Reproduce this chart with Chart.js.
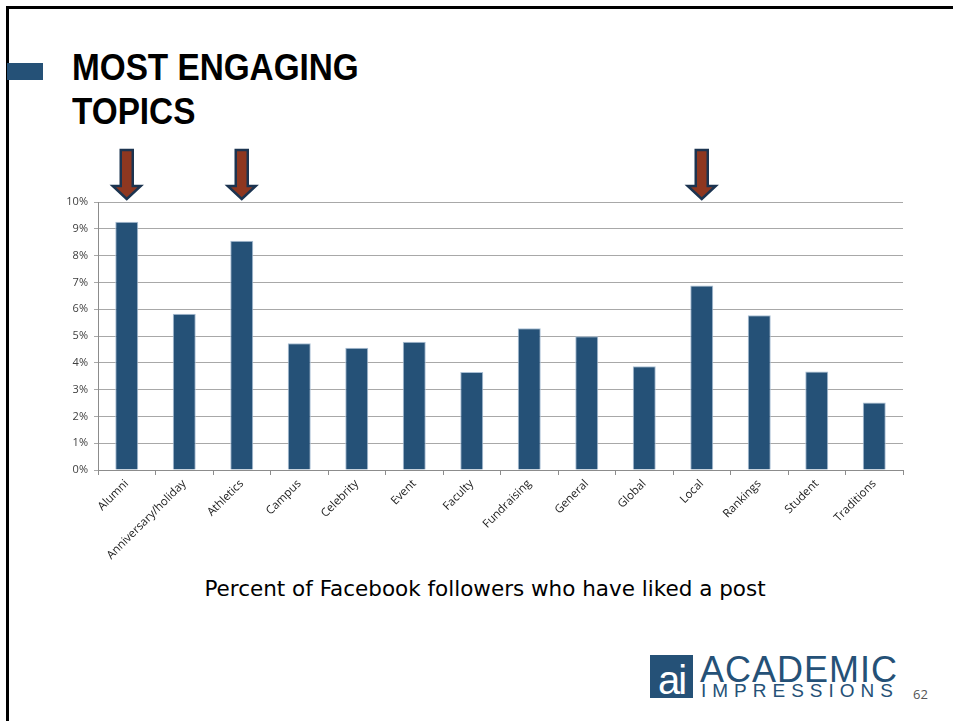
<!DOCTYPE html>
<html>
<head>
<meta charset="utf-8">
<script src="https://cdn.jsdelivr.net/npm/chart.js@4"></script>
<style>
  body { margin: 0; width: 953px; height: 721px; background: #fff; position: relative; overflow: hidden; }
  .frame { position: absolute; left: 6px; top: 6px; width: 960px; height: 730px; border-top: 3px solid #000; border-left: 3px solid #000; }
  .marker { position: absolute; left: 7px; top: 63px; width: 36px; height: 17px; background: #255177; }
  .title { position: absolute; left: 72px; top: 46px; font-family: "Liberation Sans", sans-serif; font-weight: bold; font-size: 37px; line-height: 44px; color: #000; transform: scaleX(0.9); transform-origin: 0 0; }
  .caption { position: absolute; left: 0; width: 970px; top: 576px; text-align: center; font-family: "DejaVu Sans", sans-serif; font-size: 21.5px; color: #000; }
  #wrap { position: absolute; left: 50px; top: 140px; width: 863px; height: 430px; }
  .logo-box { position: absolute; left: 650px; top: 655px; width: 43px; height: 43px; background: #255177; color: #fff; font-family: "Liberation Sans", sans-serif; font-size: 40px; line-height: 50px; text-align: center; letter-spacing: -2px; }
  .logo-a { position: absolute; left: 700px; top: 649px; font-family: "Liberation Sans", sans-serif; font-size: 36px; color: #255177; letter-spacing: 1px; }
  .logo-b { position: absolute; left: 701px; top: 680px; font-family: "Liberation Sans", sans-serif; font-size: 19px; color: #255177; letter-spacing: 6px; }
  .page { position: absolute; left: 913px; top: 685px; font-family: "Open Sans", sans-serif; font-size: 13px; color: #555; }
</style>
</head>
<body>
<div class="frame"></div>
<div class="marker"></div>
<div class="title">MOST ENGAGING<br>TOPICS</div>
<div id="wrap"><canvas id="chart"></canvas></div>
<div class="caption">Percent of Facebook followers who have liked a post</div>
<div class="logo-box">ai</div>
<div class="logo-a">ACADEMIC</div>
<div class="logo-b">IMPRESSIONS</div>
<div class="page">62</div>
<script>
const topics = ['Alumni', 'Anniversary/holiday', 'Athletics', 'Campus', 'Celebrity', 'Event', 'Faculty',
  'Fundraising', 'General', 'Global', 'Local', 'Rankings', 'Student', 'Traditions'];
const likedPct = [9.26, 5.83, 8.55, 4.73, 4.56, 4.79, 3.66, 5.29, 4.99, 3.87, 6.88, 5.77, 3.68, 2.52];
const highlighted = ['Alumni', 'Athletics', 'Local'];

// down arrows drawn over the highlighted topics
const arrowPlugin = {
    id: 'arrows',
    afterDraw(chart) {
        const ctx = chart.ctx;
        const xs = chart.scales.x;
        const tip = chart.chartArea.top - 3;
        highlighted.forEach(name => {
            const x = xs.getPixelForValue(topics.indexOf(name));
            ctx.save();
            ctx.beginPath();
            ctx.moveTo(x - 6, tip - 49);
            ctx.lineTo(x + 6, tip - 49);
            ctx.lineTo(x + 6, tip - 13);
            ctx.lineTo(x + 14, tip - 13);
            ctx.lineTo(x, tip);
            ctx.lineTo(x - 14, tip - 13);
            ctx.lineTo(x - 6, tip - 13);
            ctx.closePath();
            ctx.fillStyle = '#8e3720';
            ctx.fill();
            ctx.lineWidth = 2.5;
            ctx.strokeStyle = '#1c3450';
            ctx.stroke();
            ctx.restore();
        });
    }
};

const ctx = document.getElementById('chart').getContext('2d');
new Chart(ctx, {
    type: 'bar',
    data: {
        labels: topics,
        datasets: [{
            data: likedPct,
            backgroundColor: '#255177',
            borderColor: '#a9bfd4',
            borderWidth: { top: 1, left: 1, right: 1, bottom: 0 },
            barPercentage: 0.4,
            categoryPercentage: 1
        }]
    },
    options: {
        responsive: true,
        maintainAspectRatio: false,
        animation: false,
        layout: { padding: { top: 62, right: 10, left: 0, bottom: 0 } },
        plugins: { legend: { display: false }, tooltip: { enabled: false } },
        scales: {
            y: {
                min: 0,
                max: 10,
                afterFit: s => { s.width = 48; },
                ticks: {
                    stepSize: 1,
                    padding: 6,
                    color: '#404040',
                    font: { family: 'Open Sans', size: 11 },
                    callback: v => v + '%'
                },
                grid: { color: '#a8a8a8', lineWidth: 1, tickLength: 4 },
                border: { color: '#8c8c8c' }
            },
            x: {
                afterFit: s => { s.height = 100; },
                ticks: {
                    minRotation: 45,
                    maxRotation: 45,
                    padding: 2,
                    color: '#222',
                    font: { family: 'Open Sans', size: 11.5 }
                },
                grid: { drawOnChartArea: false, drawTicks: true, tickLength: 5, color: '#8c8c8c', offset: true },
                border: { color: '#8c8c8c' }
            }
        }
    },
    plugins: [arrowPlugin]
});
</script>
</body>
</html>
